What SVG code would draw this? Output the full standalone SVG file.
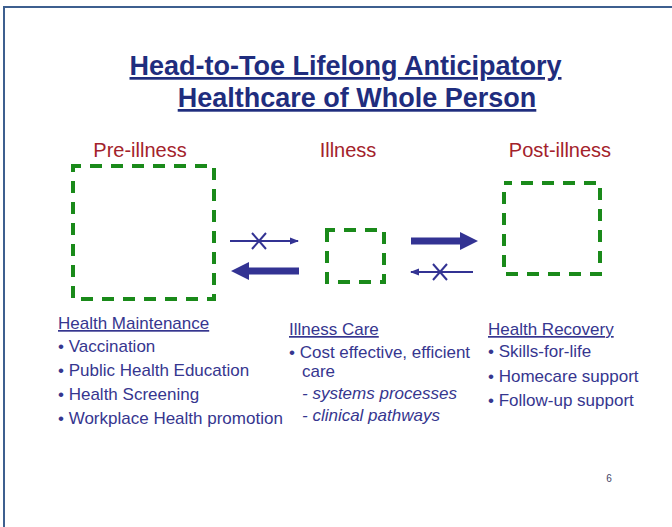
<svg xmlns="http://www.w3.org/2000/svg" width="672" height="527" viewBox="0 0 672 527">
<style>
.title{font-family:"Liberation Sans",Arial,sans-serif;font-weight:bold;font-size:27px;fill:#1f2d7e;text-decoration:underline;}
.head{font-family:"Liberation Sans",Arial,sans-serif;font-size:20px;fill:#a3222b;}
.body{font-family:"Liberation Sans",Arial,sans-serif;font-size:17px;fill:#36368f;}
.ul{text-decoration:underline;}
.it{font-style:italic;}
.box{fill:none;stroke:#1a8a1a;stroke-width:4;stroke-dasharray:12 9;stroke-dashoffset:4;}
.thin{stroke:#333393;stroke-width:2;fill:none;}
.fill{fill:#333393;}
</style>
<defs>
<marker id="ah" markerWidth="9" markerHeight="9" refX="8" refY="4.5" orient="auto" markerUnits="userSpaceOnUse">
<path d="M0,1 L9,4.5 L0,8 Z" fill="#333393"/>
</marker>
</defs>
<rect x="0" y="0" width="672" height="527" fill="#ffffff"/>
<path d="M4,527 L4,7 L672,7" fill="none" stroke="#3d5f8f" stroke-width="2"/>
<g id="title">
<text class="title" x="345.5" y="75" text-anchor="middle">Head-to-Toe Lifelong Anticipatory</text>
<text class="title" x="357" y="107" text-anchor="middle">Healthcare of Whole Person</text>
</g>
<g id="pre-illness">
<text class="head" x="140" y="157" text-anchor="middle">Pre-illness</text>
<rect class="box" x="73" y="166" width="141" height="133"/>
<text class="body ul" x="58" y="329">Health Maintenance</text>
<text class="body" x="58" y="352">• Vaccination</text>
<text class="body" x="58" y="376">• Public Health Education</text>
<text class="body" x="58" y="400">• Health Screening</text>
<text class="body" x="58" y="424">• Workplace Health promotion</text>
</g>
<g id="illness">
<text class="head" x="348" y="157" text-anchor="middle">Illness</text>
<rect class="box" x="327" y="230" width="57" height="52"/>
<text class="body ul" x="289" y="335">Illness Care</text>
<text class="body" x="289" y="358">• Cost effective, efficient</text>
<text class="body" x="302" y="377">care</text>
<text class="body it" x="302" y="399">- systems processes</text>
<text class="body it" x="302" y="421">- clinical pathways</text>
</g>
<g id="post-illness">
<text class="head" x="560" y="157" text-anchor="middle">Post-illness</text>
<rect class="box" x="504" y="183" width="96" height="91"/>
<text class="body ul" x="488" y="335">Health Recovery</text>
<text class="body" x="488" y="357">• Skills-for-life</text>
<text class="body" x="488" y="382">• Homecare support</text>
<text class="body" x="488" y="406">• Follow-up support</text>
</g>
<g id="connectors">
<line class="thin" x1="230" y1="241" x2="298" y2="241" marker-end="url(#ah)"/>
<path class="thin" d="M252,233 L266,249 M266,233 L252,249"/>
<path class="fill" d="M299,267.5 L249,267.5 L249,262 L231,271 L249,280 L249,274.5 L299,274.5 Z"/>
<path class="fill" d="M411,237.5 L460,237.5 L460,232 L478,241 L460,250 L460,244.5 L411,244.5 Z"/>
<line class="thin" x1="473" y1="272" x2="411" y2="272" marker-end="url(#ah)"/>
<path class="thin" d="M433,264 L447,280 M447,264 L433,280"/>
</g>
<text x="609" y="482" font-family="Liberation Sans,Arial,sans-serif" font-size="10" fill="#444466" text-anchor="middle">6</text>
</svg>
